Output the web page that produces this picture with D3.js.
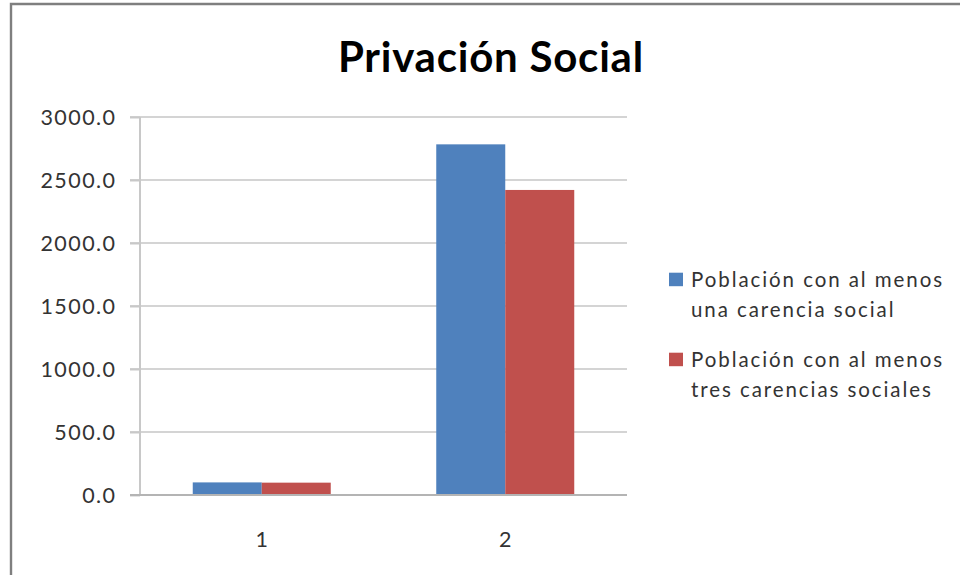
<!DOCTYPE html>
<html><head><meta charset="utf-8">
<script src="https://cdn.jsdelivr.net/npm/d3@7"></script>
<style>body{margin:0;background:#fff}svg{display:block}</style>
</head><body>
<svg id="c" width="960" height="575"></svg>
<script>
const title = "Privación Social";
const categories = ["1", "2"];
const seriesNames = [
  ["Población con al menos", "una carencia social"],
  ["Población con al menos", "tres carencias sociales"]
];
const seriesBlue = [100, 2783];
const seriesRed = [98, 2421];
const yTicks = [0, 500, 1000, 1500, 2000, 2500, 3000];
const colors = ["#4f81bd", "#c0504d"];

const svg = d3.select("#c");
const font = "Lato, 'Open Sans', sans-serif";
const m = {left: 140, right: 627, top: 117, bottom: 495};

// spacing helper: letter-spacing so that a reference string reaches a target width
function spacingFor(node, target) {
  const w = node.getComputedTextLength();
  const n = node.textContent.length;
  return (target - w) / n;
}

// frame
svg.append("path").attr("d", "M11,575 V4 H960").attr("fill", "none")
  .attr("stroke", "#7f7f7f").attr("stroke-width", 2.4);

const y = d3.scaleLinear().domain([0, 3000]).range([m.bottom, m.top]);
const x0 = d3.scaleBand().domain(categories).range([m.left, m.right]).paddingInner(0).paddingOuter(0);
const keys = [0, 1];
const x1 = d3.scaleBand().domain(keys).range([0, 138]);

// gridlines
svg.append("g").selectAll("line").data(yTicks.filter(t => t > 0)).join("line")
  .attr("x1", m.left - 10).attr("x2", m.right)
  .attr("y1", d => y(d)).attr("y2", d => y(d))
  .attr("stroke", "#d4d4d4").attr("stroke-width", 2);

// y axis
const yAxis = d3.axisLeft(y).tickValues(yTicks).tickSize(10).tickPadding(15)
  .tickFormat(d => d3.format(".1f")(d));
const gy = svg.append("g").attr("transform", `translate(${m.left},0)`).call(yAxis);
gy.select(".domain").attr("stroke", "#c8c8c8").attr("stroke-width", 2).attr("d", `M0,${m.top}V${m.bottom}`);
gy.selectAll(".tick line").attr("stroke", "#c8c8c8").attr("stroke-width", 2);
const yt = gy.selectAll(".tick text").attr("font-family", font).attr("font-size", 21.5).attr("fill", "#333").attr("dy", "0.35em");
const topTick = yt.filter(d => d === 3000).node();
const yls = spacingFor(topTick, 76);
yt.attr("letter-spacing", yls).attr("x", -25 + yls);

// bars
const data = categories.map((c, i) => ({c, v: [seriesBlue[i], seriesRed[i]]}));
const g = svg.append("g");
g.selectAll("g").data(data).join("g")
  .attr("transform", d => `translate(${x0(d.c) + (x0.bandwidth() - 138) / 2},0)`)
  .selectAll("rect").data(d => d.v.map((v, k) => ({v, k}))).join("rect")
  .attr("x", d => x1(d.k)).attr("width", x1.bandwidth())
  .attr("y", d => y(d.v)).attr("height", d => y(0) - y(d.v))
  .attr("fill", d => colors[d.k]);

// x axis
const xAxis = d3.axisBottom(x0).tickSize(0).tickPadding(52);
const gx = svg.append("g").attr("transform", `translate(0,${m.bottom})`).call(xAxis);
gx.select(".domain").attr("stroke", "#b4b4b4").attr("stroke-width", 2).attr("d", `M${m.left - 10},0H${m.right}`);
gx.selectAll(".tick text").attr("font-family", font).attr("font-size", 21.5).attr("fill", "#333").attr("dy", "0");

// title
const tt = svg.append("text").attr("x", 490.5).attr("y", 72).attr("text-anchor", "middle")
  .attr("font-family", font).attr("font-weight", "bold").attr("font-size", 42).attr("fill", "#000")
  .text(title);
const tls = spacingFor(tt.node(), 306);
tt.attr("letter-spacing", tls).attr("x", 490.5 + tls / 2);

// legend
const lg = svg.append("g");
const entryY = [272.7, 352.7];
const legendTexts = [];
seriesNames.forEach((lines, i) => {
  lg.append("rect").attr("x", 669).attr("y", entryY[i]).attr("width", 14).attr("height", 13.5).attr("fill", colors[i]);
  lines.forEach((t, j) => {
    legendTexts.push(lg.append("text").attr("x", 691).attr("y", entryY[i] + 14.5 + j * 29.7)
      .attr("font-family", font).attr("font-size", 20.5).attr("fill", "#333").text(t));
  });
});
const lls = spacingFor(legendTexts[0].node(), 253);
legendTexts.forEach(t => t.attr("letter-spacing", lls));
</script>
</body></html>
